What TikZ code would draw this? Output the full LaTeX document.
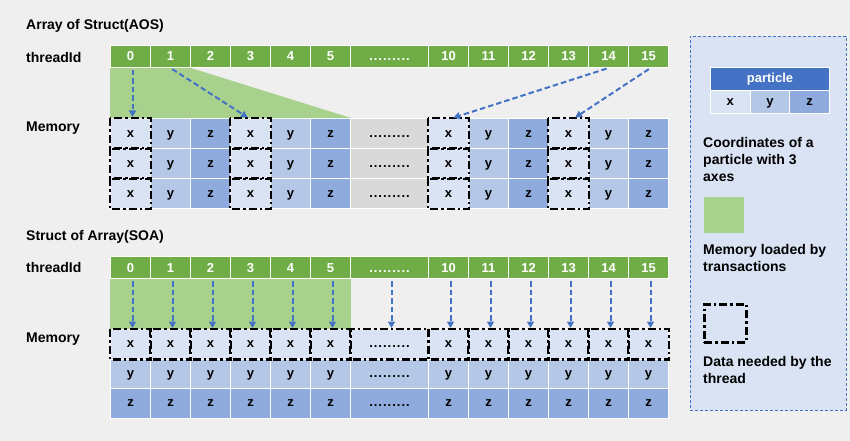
\documentclass[tikz,border=0pt]{standalone}
\usepackage{fontspec}
\setmainfont{Liberation Sans}
\usetikzlibrary{arrows.meta}
\definecolor{bg}{HTML}{EFEFEF}
\definecolor{tgreen}{HTML}{70AD47}
\definecolor{lgreen}{HTML}{A9D18E}
\definecolor{cx}{HTML}{DAE3F3}
\definecolor{cy}{HTML}{B4C7E7}
\definecolor{cz}{HTML}{8FAADC}
\definecolor{cg}{HTML}{D9D9D9}
\definecolor{ablue}{HTML}{4472C4}
\newcommand\mydotrow{.\kern1pt.\kern1pt.\kern1pt.\kern1pt.\kern1pt.\kern1pt.\kern1pt.\kern1pt.}
\begin{document}
\begin{tikzpicture}[x=1pt,y=-1pt,
  lbl/.style={anchor=base west,inner sep=0,font=\bfseries\fontsize{14}{17}\selectfont},
  tcell/.style={fill=tgreen,draw=white,line width=1pt,minimum height=22pt,inner sep=0,
    anchor=north west,text=white,font=\bfseries\fontsize{13}{15}\selectfont,
    text height=9.5pt,text depth=0.5pt},
  mcell/.style={draw=white,line width=1pt,minimum height=30pt,inner sep=0,anchor=north west,
    font=\bfseries\fontsize{13}{15}\selectfont,text height=8pt,text depth=1pt},
  xc/.style={mcell,fill=cx},
  yc/.style={mcell,fill=cy},
  zc/.style={mcell,fill=cz},
  gc/.style={mcell,fill=cg},
  needbox/.style={draw=black,line width=2.7pt,dash pattern=on 8pt off 3pt on 2.5pt off 3pt},
  arr/.style={draw=ablue,line width=2pt,dash pattern=on 5.5pt off 3pt,
    -{Triangle[length=6.5pt,width=7pt]},shorten <=2pt,shorten >=1pt},
  legbox/.style={fill=cx,draw=ablue,line width=0.8pt,dash pattern=on 3pt off 2pt,
    anchor=north west,inner sep=0}
]
\useasboundingbox[fill=bg] (0,0) rectangle (850,441);

% ================= AOS =================
\node[lbl] (aostitle) at (26,30) {Array of Struct(AOS)};
\node[lbl] (aosthr) at (26,62.5) {threadId};
\node[lbl] (aosmem) at (26,131.5) {Memory};

\foreach \c/\l/\w/\t in {0/110/40/0,1/150/40/1,2/190/40/2,3/230/40/3,4/270/40/4,5/310/40/5,
  6/350/78/{\mydotrow},7/428/40/10,8/468/40/11,9/508/40/12,10/548/40/13,11/588/40/14,12/628/40/15}
  {\node[tcell,minimum width=\w pt] (at-\c) at (\l,45) {\t};}

\foreach \r/\y in {1/118,2/148,3/178}
 \foreach \c/\l/\w/\s/\t in {0/110/40/xc/x,1/150/40/yc/y,2/190/40/zc/z,3/230/40/xc/x,
   4/270/40/yc/y,5/310/40/zc/z,6/350/78/gc/{\mydotrow},7/428/40/xc/x,8/468/40/yc/y,
   9/508/40/zc/z,10/548/40/xc/x,11/588/40/yc/y,12/628/40/zc/z}
  {\node[\s,minimum width=\w pt] (am-\r-\c) at (\l,\y) {\t};}

\fill[lgreen] (at-0.south west) -- (at-1.south east) -- (am-1-5.north east) -- (am-1-0.north west) -- cycle;

\foreach \r in {1,2,3}
 \foreach \c in {0,3,7,10}
  {\draw[needbox] (am-\r-\c.north west) rectangle (am-\r-\c.south east);}

\draw[arr] ([xshift=2pt]at-0.south) -- ([xshift=2pt]am-1-0.north);
\draw[arr] (at-1.south) -- ([xshift=-2pt]am-1-3.north);
\draw[arr] (at-11.south) -- ([xshift=4pt]am-1-7.north);
\draw[arr] ([xshift=2pt]at-12.south) -- ([xshift=6pt]am-1-10.north);

% ================= SOA =================
\node[lbl] (soatitle) at (26,240.5) {Struct of Array(SOA)};
\node[lbl] (soathr) at (26,272) {threadId};
\node[lbl] (soamem) at (26,342.5) {Memory};

\foreach \c/\l/\w/\t in {0/110/40/0,1/150/40/1,2/190/40/2,3/230/40/3,4/270/40/4,5/310/40/5,
  6/350/78/{\mydotrow},7/428/40/10,8/468/40/11,9/508/40/12,10/548/40/13,11/588/40/14,12/628/40/15}
  {\node[tcell,minimum width=\w pt] (st-\c) at (\l,256) {\t};}

\foreach \r/\y/\s/\t in {1/329/xc/x,2/358.5/yc/y,3/388/zc/z}
 \foreach \c/\l/\w in {0/110/40,1/150/40,2/190/40,3/230/40,4/270/40,5/310/40,6/350/78,
   7/428/40,8/468/40,9/508/40,10/548/40,11/588/40,12/628/40}
  {\ifnum\c=6
     \node[\s,minimum width=\w pt,minimum height=29.5pt] (sm-\r-\c) at (\l,\y) {\mydotrow};
   \else
     \node[\s,minimum width=\w pt,minimum height=29.5pt] (sm-\r-\c) at (\l,\y) {\t};
   \fi}

\fill[lgreen] (st-0.south west) rectangle (sm-1-5.north east);

\foreach \c in {0,...,12}
  {\draw[needbox] (sm-1-\c.north west) rectangle (sm-1-\c.south east);}

\foreach \c in {0,...,12}
  {\draw[arr] ([xshift=2pt]st-\c.south) -- ([xshift=2pt]sm-1-\c.north);}

% ================= Legend =================
\node[legbox,minimum width=156pt,minimum height=374pt] (leg) at (690,36) {};
\node[fill=ablue,draw=white,line width=1pt,minimum width=119pt,minimum height=23pt,inner sep=0,
  anchor=north west,text=white,font=\bfseries\fontsize{13}{15}\selectfont] (ph) at (710,67) {particle};
\node[xc,minimum width=39.67pt,minimum height=23pt] (px) at (710,90) {x};
\node[yc,minimum width=39.67pt,minimum height=23pt] (py) at (749.67,90) {y};
\node[zc,minimum width=39.67pt,minimum height=23pt] (pz) at (789.33,90) {z};

\node[lbl] (l1a) at (703,147) {Coordinates of a};
\node[lbl] (l1b) at (703,164) {particle with 3};
\node[lbl] (l1c) at (703,181) {axes};

\node[fill=lgreen,minimum width=40pt,minimum height=36pt,inner sep=0,anchor=north west] (lgsq) at (704,197) {};
\node[lbl] (l2a) at (703,254.5) {Memory loaded by};
\node[lbl] (l2b) at (703,271) {transactions};

\node[needbox,minimum width=42pt,minimum height=38pt,inner sep=0,anchor=north west] (ldsq) at (703,303) {};
\node[lbl] (l3a) at (703,366) {Data needed by the};
\node[lbl] (l3b) at (703,383) {thread};
\end{tikzpicture}
\end{document}
